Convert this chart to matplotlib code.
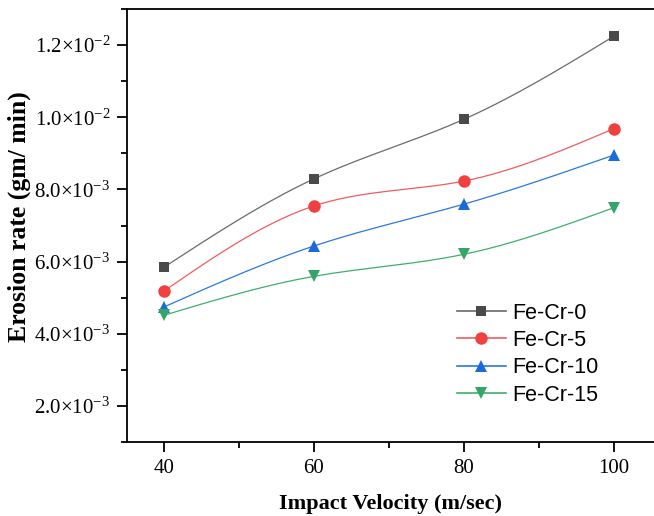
import matplotlib
matplotlib.use('Agg')
import matplotlib.pyplot as plt
from matplotlib.ticker import FuncFormatter, MultipleLocator
import numpy as np

velocity = [40, 60, 80, 100]
fe_cr_0 = [5.84e-3, 8.29e-3, 9.94e-3, 1.224e-2]
fe_cr_5 = [5.18e-3, 7.54e-3, 8.23e-3, 9.68e-3]
fe_cr_10 = [4.74e-3, 6.43e-3, 7.59e-3, 8.95e-3]
fe_cr_15 = [4.51e-3, 5.59e-3, 6.20e-3, 7.49e-3]
labels = ['Fe-Cr-0', 'Fe-Cr-5', 'Fe-Cr-10', 'Fe-Cr-15']

plt.rcParams['font.family'] = 'Liberation Serif'
plt.rcParams['mathtext.fontset'] = 'custom'
plt.rcParams['mathtext.rm'] = 'Liberation Serif'
plt.rcParams['mathtext.it'] = 'Liberation Serif:italic'


def spline_curve(x, y, n=200):
    """Natural cubic spline through the points, for a smooth connecting line"""
    x = np.asarray(x, float)
    y = np.asarray(y, float)
    k = len(x)
    h = np.diff(x)
    A = np.zeros((k, k))
    b = np.zeros(k)
    A[0, 0] = A[-1, -1] = 1
    for i in range(1, k - 1):
        A[i, i - 1] = h[i - 1]
        A[i, i] = 2 * (h[i - 1] + h[i])
        A[i, i + 1] = h[i]
        b[i] = 6 * ((y[i + 1] - y[i]) / h[i] - (y[i] - y[i - 1]) / h[i - 1])
    m = np.linalg.solve(A, b)
    xs = np.linspace(x[0], x[-1], n)
    idx = np.clip(np.searchsorted(x, xs) - 1, 0, k - 2)
    x0, x1 = x[idx], x[idx + 1]
    hh = x1 - x0
    t0, t1 = x1 - xs, xs - x0
    ys = (m[idx] * t0**3 + m[idx + 1] * t1**3) / (6 * hh) \
        + (y[idx] / hh - m[idx] * hh / 6) * t0 \
        + (y[idx + 1] / hh - m[idx + 1] * hh / 6) * t1
    return xs, ys


def sci_label(v, pos):
    if v == 0:
        return '0'
    exp = int(np.floor(np.log10(abs(v)) + 1e-9))
    mant = v / 10**exp
    return '%.1f\u00d710$^{\\mathregular{%d}}$' % (mant, exp)


fig = plt.figure(figsize=(6.54, 5.16), dpi=100)
ax = fig.add_axes([0.1942, 0.1434, 0.8058, 0.8391])

series = [fe_cr_0, fe_cr_5, fe_cr_10, fe_cr_15]
line_colors = ['#6a6a6a', '#f25c5c', '#2a78e0', '#3fae6c']
marker_colors = ['#4a4a4a', '#f04040', '#1a6ad8', '#35a468']
markers = ['s', 'o', '^', 'v']
sizes = [7.5, 9, 8.5, 8.5]

for vals, lc, mc, mk, ms, lab in zip(series, line_colors, marker_colors, markers, sizes, labels):
    xs, ys = spline_curve(velocity, vals)
    ax.plot(xs, ys, color=lc, lw=0.9, zorder=2)
    ax.plot(velocity, vals, linestyle='none', marker=mk, ms=ms, color=mc,
            markeredgewidth=0, zorder=3)
    # legend proxy with line and marker together
    ax.plot([], [], color=lc, lw=1.2, marker=mk, ms=ms, mfc=mc, mec=mc,
            markeredgewidth=0, label=lab)

ax.set_xlim(35.1, 105.4)
ax.set_ylim(0.001, 0.013)
ax.xaxis.set_major_locator(MultipleLocator(20))
ax.xaxis.set_minor_locator(MultipleLocator(10))
ax.yaxis.set_major_locator(MultipleLocator(0.002))
ax.yaxis.set_minor_locator(MultipleLocator(0.001))
ax.yaxis.set_major_formatter(FuncFormatter(sci_label))

ax.spines['right'].set_visible(False)
for s in ['left', 'bottom', 'top']:
    ax.spines[s].set_linewidth(1.3)
ax.tick_params(axis='both', which='major', direction='out', length=7, width=1.3,
               labelsize=15, pad=5)
ax.tick_params(axis='both', which='minor', direction='out', length=4, width=1.3)

ax.set_xlabel('Impact Velocity (m/sec)', fontsize=16, fontweight='bold', labelpad=12)
ax.set_ylabel('Erosion rate (gm/ min)', fontsize=18.5, fontweight='bold')
ax.yaxis.set_label_coords(-0.182, 0.52)

leg = ax.legend(loc='upper left', bbox_to_anchor=(0.609, 0.342), frameon=False,
                prop={'family': 'Liberation Sans', 'size': 15.5},
                handlelength=2.3, handletextpad=0.3, labelspacing=0.3,
                borderaxespad=0)

fig.savefig('out.png', dpi=100)
